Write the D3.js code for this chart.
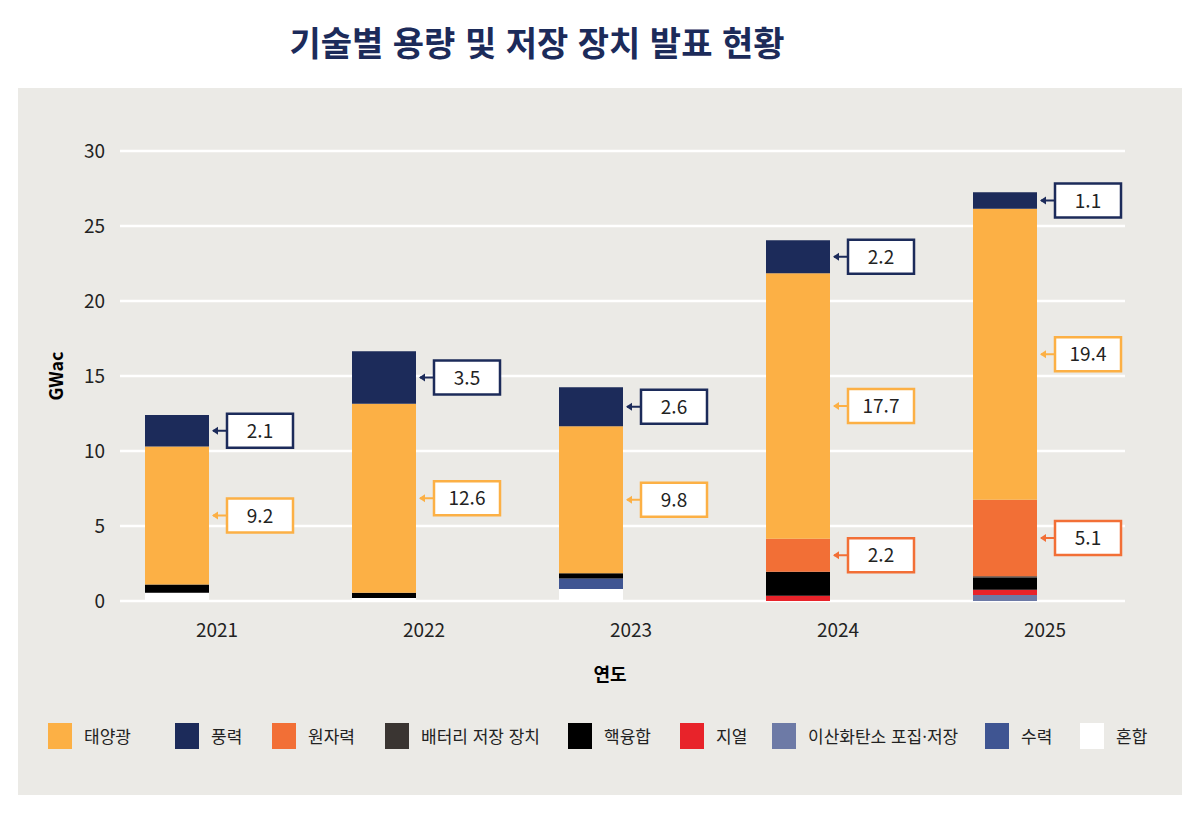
<!DOCTYPE html>
<html lang="ko">
<head>
<meta charset="UTF-8">
<script src="https://d3js.org/d3.v7.min.js"></script>
<style>
  body { margin: 0; background: #fff; font-family: "Noto Sans CJK KR", "Noto Sans", sans-serif; }
</style>
</head>
<body>
<svg id="chart" width="1200" height="816"></svg>
<script>
const years = ["2021", "2022", "2023", "2024", "2025"];
const techs = ["혼합", "이산화탄소 포집·저장", "수력", "지열", "핵융합", "배터리 저장 장치", "원자력", "태양광", "풍력"];
const legendOrder = ["태양광", "풍력", "원자력", "배터리 저장 장치", "핵융합", "지열", "이산화탄소 포집·저장", "수력", "혼합"];
const colors = ["#ffffff", "#6d7aa6", "#3f5592", "#e8232a", "#000000", "#3a3532", "#f26f36", "#fcb045", "#1c2b5a"];
// values per tech, per year
const mix     = [0.55, 0.2, 0.8, 0, 0];
const ccs     = [0, 0, 0, 0, 0.4];
const hydro   = [0, 0, 0.7, 0, 0];
const geo     = [0, 0, 0, 0.35, 0.35];
const fusion  = [0.55, 0.35, 0.35, 1.6, 0.8];
const battery = [0, 0, 0, 0, 0.1];
const nuclear = [0, 0, 0, 2.2, 5.1];
const solar   = [9.2, 12.6, 9.8, 17.7, 19.4];
const wind    = [2.1, 3.5, 2.6, 2.2, 1.1];
const yTicks = [0, 5, 10, 15, 20, 25, 30];
const labelled = ["태양광", "풍력", "원자력"];

const series = [mix, ccs, hydro, geo, fusion, battery, nuclear, solar, wind];
const rows = years.map((y, i) => {
  const r = { year: y };
  techs.forEach((t, k) => r[t] = series[k][i]);
  return r;
});
const color = d3.scaleOrdinal().domain(techs).range(colors);
const stacked = d3.stack().keys(techs)(rows);

const svg = d3.select("#chart");
svg.append("rect").attr("x", 18).attr("y", 88).attr("width", 1164).attr("height", 707).attr("fill", "#ebeae6");
svg.append("text").attr("x", 537).attr("y", 56).attr("text-anchor", "middle")
  .attr("font-size", 34).attr("font-weight", 700).attr("fill", "#1c2b5a").text("기술별 용량 및 저장 장치 발표 현황");

const x = d3.scaleBand().domain(years).range([113.5, 1148.5]);
const y = d3.scaleLinear().domain([0, 30]).range([601, 151]);

const g = svg.append("g");
g.selectAll(".grid").data(yTicks).join("line")
  .attr("x1", 120).attr("x2", 1125).attr("y1", d => y(d)).attr("y2", d => y(d))
  .attr("stroke", "#fff").attr("stroke-width", 2.5);
g.selectAll(".yt").data(yTicks).join("text")
  .attr("x", 105).attr("y", d => y(d) + 7).attr("text-anchor", "end")
  .attr("font-size", 19).attr("fill", "#222").text(d => d);
g.selectAll(".xt").data(years).join("text")
  .attr("x", d => x(d) + x.bandwidth() / 2).attr("y", 637).attr("text-anchor", "middle")
  .attr("font-size", 19).attr("fill", "#222").text(d => d);
svg.append("text").attr("transform", "translate(63,376) rotate(-90)").attr("text-anchor", "middle")
  .attr("font-size", 18).attr("font-weight", 700).text("GWac");
svg.append("text").attr("x", 610).attr("y", 681).attr("text-anchor", "middle")
  .attr("font-size", 18).attr("font-weight", 700).text("연도");

const barW = 64, off = x.bandwidth() / 2 - 40 - barW / 2;
stacked.forEach(s => {
  g.selectAll(null).data(s).join("rect")
    .attr("x", d => x(d.data.year) + off).attr("width", barW)
    .attr("y", d => y(d[1])).attr("height", d => y(d[0]) - y(d[1]))
    .attr("fill", color(s.key));
});

// value callouts
stacked.filter(s => labelled.includes(s.key)).forEach(s => {
  const c = color(s.key);
  s.forEach(d => {
    const v = d[1] - d[0];
    if (v <= 0) return;
    const cy = y((d[0] + d[1]) / 2);
    const bx = x(d.data.year) + off + barW + 18;
    const lg = g.append("g");
    lg.append("line").attr("x1", bx - 14).attr("x2", bx).attr("y1", cy).attr("y2", cy)
      .attr("stroke", c).attr("stroke-width", 2);
    lg.append("path").attr("d", `M${bx - 15},${cy} l6,-4 l0,8 z`).attr("fill", c);
    lg.append("rect").attr("x", bx).attr("y", cy - 17).attr("width", 66).attr("height", 34)
      .attr("fill", "#fff").attr("stroke", c).attr("stroke-width", 2.5);
    lg.append("text").attr("x", bx + 33).attr("y", cy + 7).attr("text-anchor", "middle")
      .attr("font-size", 19).attr("fill", "#222").text(v.toFixed(1));
  });
});

// legend
const legX = [48, 175, 272, 385, 568, 680, 772, 985, 1080];
const lg = svg.selectAll(".leg").data(legendOrder).join("g")
  .attr("transform", (d, i) => `translate(${legX[i]},723)`);
lg.append("rect").attr("width", 24).attr("height", 26).attr("fill", d => color(d));
lg.append("text").attr("x", 36).attr("y", 20).attr("font-size", 17).attr("fill", "#222").text(d => d);
</script>
</body>
</html>
